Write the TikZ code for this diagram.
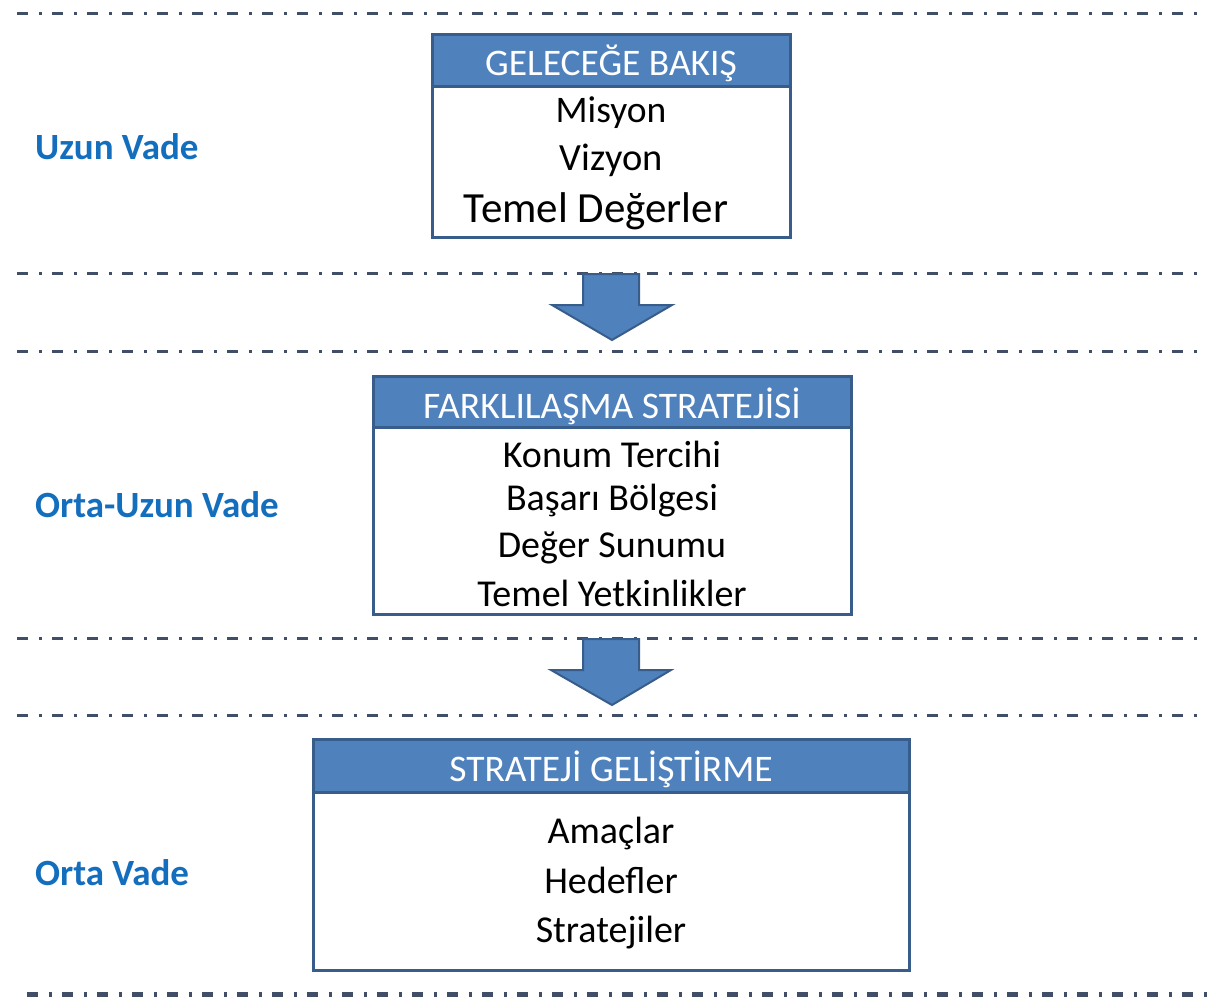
\documentclass[tikz,border=0pt]{standalone}
\usepackage{fontspec}
\setmainfont{Carlito}
\definecolor{hdrfill}{RGB}{79,129,189}
\definecolor{hdrline}{RGB}{56,93,138}
\definecolor{dashcol}{RGB}{64,78,104}
\definecolor{lblcol}{RGB}{20,110,190}
\tikzset{
  sepline/.style={draw=dashcol, line width=3pt, dash pattern=on 11pt off 11pt on 3pt off 10pt},
  hdrbox/.style={draw=hdrline, line width=3pt, fill=hdrfill, inner sep=0pt},
  bodybox/.style={draw=hdrline, line width=3pt, fill=white, inner sep=0pt},
  hdrtext/.style={text=white, anchor=base, inner sep=0pt, font=\fontsize{37.5}{42}\selectfont},
  bodytext/.style={anchor=base, inner sep=0pt, font=\fontsize{38}{44}\selectfont},
  lbltext/.style={anchor=base west, inner sep=0pt, text=lblcol, font=\bfseries\fontsize{37}{42}\selectfont},
  blockarrow/.style={draw=hdrline, line width=2pt, fill=hdrfill, line join=miter},
}
\begin{document}
\begin{tikzpicture}[x=1pt,y=-1pt]
\useasboundingbox (0,0) rectangle (1219,997);

% separator lines
\draw[sepline] (17,13) -- (1207,13);
\draw[sepline] (17,273) -- (1207,273);
\draw[sepline] (17,351) -- (1207,351);
\draw[sepline] (17,638) -- (1207,638);
\draw[sepline] (17,715) -- (1207,715);
\draw[sepline, line width=5pt] (27,994) -- (1207,994);

% Box 1
\draw[bodybox] (432,86) rectangle (790,237);
\draw[hdrbox] (432,34) rectangle (790,86);
\node[hdrtext] (h1) at (611,75) {GELECEĞE BAKIŞ};
\node[bodytext, font=\fontsize{37.5}{42}\selectfont] (b1a) at (611,122) {Misyon};
\node[bodytext, font=\fontsize{38.5}{44}\selectfont] (b1b) at (611,170) {Vizyon};
\node[bodytext, font=\fontsize{43}{48}\selectfont] (b1c) at (596,222) {Temel Değerler};

% Arrow 1
\filldraw[blockarrow] (583,274) -- (639,274) -- (639,305) -- (672,305) -- (612,340) -- (552,305) -- (583,305) -- cycle;

% Box 2
\draw[bodybox] (373,427) rectangle (851,614);
\draw[hdrbox] (373,376) rectangle (851,427);
\node[hdrtext] (h2) at (612,418) {FARKLILAŞMA STRATEJİSİ};
\node[bodytext] (b2a) at (612,467) {Konum Tercihi};
\node[bodytext] (b2b) at (612,510) {Başarı Bölgesi};
\node[bodytext] (b2c) at (612,557) {Değer Sunumu};
\node[bodytext] (b2d) at (612,606) {Temel Yetkinlikler};

% Arrow 2
\filldraw[blockarrow] (583,639) -- (639,639) -- (639,670) -- (671,670) -- (612,705) -- (551,670) -- (583,670) -- cycle;

% Box 3
\draw[bodybox] (313,792) rectangle (909,970);
\draw[hdrbox] (313,739) rectangle (909,792);
\node[hdrtext] (h3) at (611,781) {STRATEJİ GELİŞTİRME};
\node[bodytext] (b3a) at (611,843) {Amaçlar};
\node[bodytext] (b3b) at (611,893) {Hedefler};
\node[bodytext] (b3c) at (611,942) {Stratejiler};

% Labels
\node[lbltext] (l1) at (35,159) {Uzun Vade};
\node[lbltext] (l2) at (35,517) {Orta-Uzun Vade};
\node[lbltext] (l3) at (35,885) {Orta Vade};
\end{tikzpicture}
\end{document}
